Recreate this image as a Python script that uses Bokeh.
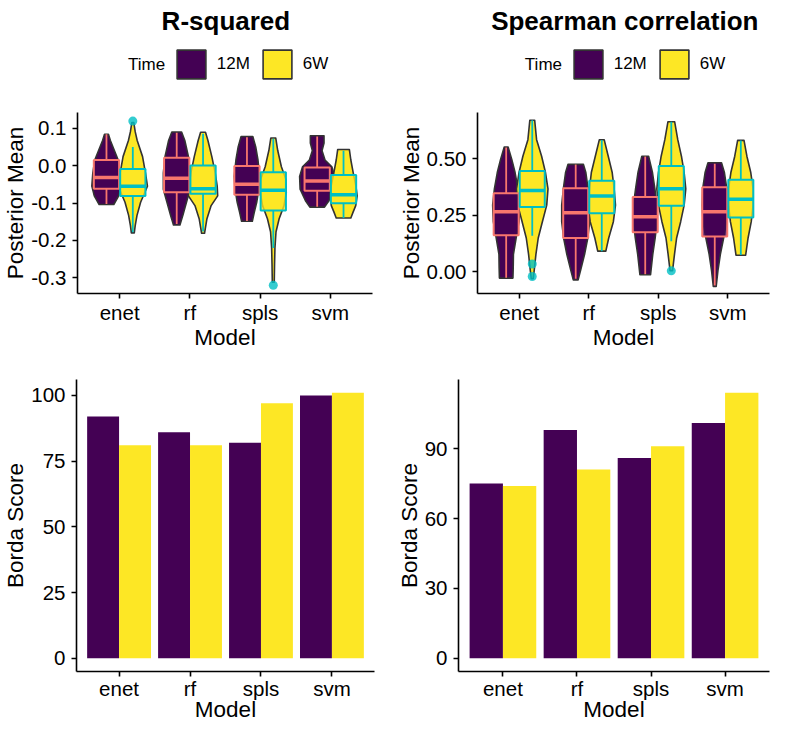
import numpy as np
from bokeh.plotting import figure
from bokeh.layouts import column, row
from bokeh.models import (Range1d, FixedTicker, Legend, LegendItem, Label,
                          NumeralTickFormatter)
from bokeh.embed import file_html
from bokeh.resources import INLINE

# ---------------- data ----------------
models = ["enet", "rf", "spls", "svm"]
times = ["12M", "6W"]

# --- R-squared: violin outlines (y levels, density half-widths) ---
r2_enet_12m_y = [0.084, 0.067, 0.041, 0.015, -0.02, -0.055, -0.081, -0.104]
r2_enet_12m_d = [2, 4, 8, 12, 14, 15, 12.5, 7.5]
r2_enet_6w_y = [0.115, 0.09, 0.067, 0.024, -0.02, -0.055, -0.098, -0.133, -0.16, -0.18]
r2_enet_6w_d = [1, 2.5, 4.5, 10, 13, 15, 8, 4.3, 2.5, 1.5]
r2_rf_12m_y = [0.09, 0.067, 0.024, -0.02, -0.063, -0.098, -0.133, -0.159]
r2_rf_12m_d = [5, 8.3, 12, 13.7, 13.7, 10, 6.3, 3.3]
r2_rf_6w_y = [0.089, 0.067, 0.024, -0.02, -0.055, -0.081, -0.107, -0.142, -0.181]
r2_rf_6w_d = [2.5, 5, 9, 12.5, 14.5, 15, 8.3, 4, 1.5]
r2_spls_12m_y = [0.078, 0.05, 0.015, -0.029, -0.063, -0.098, -0.125, -0.149]
r2_spls_12m_d = [6, 9, 11.3, 13, 12.2, 10, 7.5, 5.5]
r2_spls_6w_y = [0.074, 0.041, -0.003, -0.037, -0.072, -0.107, -0.142, -0.177, -0.22, -0.264, -0.312]
r2_spls_6w_d = [2.5, 4.5, 8.3, 13, 13.3, 11, 6, 2.8, 1.7, 1.3, 1]
r2_svm_12m_y = [0.08, 0.06, 0.04, 0.015, -0.003, -0.029, -0.063, -0.094, -0.111]
r2_svm_12m_d = [7, 7, 5, 8, 15, 18, 17.5, 12, 7.5]
r2_svm_6w_y = [0.043, 0.015, -0.02, -0.055, -0.081, -0.107, -0.125, -0.14]
r2_svm_6w_d = [6, 7.5, 10, 12.7, 14, 12.5, 9.7, 7.5]

# --- R-squared: box statistics per model ---
r2_lo_12m = [-0.103, -0.156, -0.148, -0.110]
r2_q1_12m = [-0.062, -0.071, -0.078, -0.067]
r2_med_12m = [-0.032, -0.034, -0.050, -0.041]
r2_q3_12m = [0.015, 0.021, -0.001, -0.005]
r2_hi_12m = [0.084, 0.088, 0.076, 0.078]
r2_lo_6w = [-0.178, -0.176, -0.220, -0.140]
r2_q1_6w = [-0.081, -0.075, -0.120, -0.101]
r2_med_6w = [-0.055, -0.062, -0.066, -0.078]
r2_q3_6w = [-0.009, 0.000, -0.018, -0.025]
r2_hi_6w = [0.050, 0.085, 0.072, 0.040]
r2_out_model = ["enet", "spls"]
r2_out_val = [0.119, -0.320]

# --- Spearman: violin outlines ---
sp_enet_12m_y = [0.552, 0.497, 0.439, 0.367, 0.295, 0.222, 0.15, 0.078, 0.02, -0.027]
sp_enet_12m_d = [2, 5.8, 9.2, 12.2, 14, 13.3, 10.3, 7.5, 7.3, 7]
sp_enet_6w_y = [0.67, 0.584, 0.511, 0.439, 0.367, 0.295, 0.222, 0.15, 0.078, 0.006, -0.03]
sp_enet_6w_d = [2.5, 4.5, 9.7, 13.7, 16.3, 15, 10.5, 6.2, 3.8, 2, 1]
sp_rf_12m_y = [0.475, 0.439, 0.367, 0.295, 0.222, 0.15, 0.078, 0.006, -0.035]
sp_rf_12m_d = [8, 10.5, 12.8, 14.5, 14.5, 12.5, 9.2, 5, 2.5]
sp_rf_6w_y = [0.584, 0.511, 0.439, 0.367, 0.295, 0.222, 0.15, 0.092]
sp_rf_6w_d = [2.5, 6.7, 10.8, 12.8, 14.2, 12, 7.2, 4.2]
sp_spls_12m_y = [0.511, 0.439, 0.367, 0.295, 0.222, 0.15, 0.078, -0.012]
sp_spls_12m_d = [3.5, 7.5, 10, 12.2, 12.2, 10.3, 7.8, 5.5]
sp_spls_6w_y = [0.663, 0.584, 0.511, 0.439, 0.367, 0.295, 0.222, 0.15, 0.078, 0.006]
sp_spls_6w_d = [3.5, 6.7, 10.5, 13.3, 15, 13.3, 9.7, 5.5, 3.3, 1.3]
sp_svm_12m_y = [0.482, 0.439, 0.367, 0.295, 0.222, 0.15, 0.078, 0.006, -0.064]
sp_svm_12m_d = [7, 10, 12.5, 13, 12.2, 9.2, 5.8, 3.3, 1.5]
sp_svm_6w_y = [0.581, 0.511, 0.439, 0.367, 0.295, 0.222, 0.15, 0.074]
sp_svm_6w_d = [3.3, 6.3, 10.3, 12.7, 12.7, 10.8, 7.5, 5]

# --- Spearman: box statistics ---
sp_lo_12m = [-0.025, -0.030, -0.010, -0.060]
sp_q1_12m = [0.162, 0.150, 0.175, 0.157]
sp_med_12m = [0.266, 0.261, 0.244, 0.266]
sp_q3_12m = [0.348, 0.370, 0.331, 0.374]
sp_hi_12m = [0.550, 0.475, 0.510, 0.478]
sp_lo_6w = [0.160, 0.092, 0.136, 0.075]
sp_q1_6w = [0.287, 0.259, 0.292, 0.241]
sp_med_6w = [0.360, 0.335, 0.367, 0.321]
sp_q3_6w = [0.446, 0.403, 0.468, 0.407]
sp_hi_6w = [0.670, 0.583, 0.663, 0.580]
sp_out_model = ["enet", "enet", "spls"]
sp_out_val = [0.035, -0.020, 0.005]

# --- Borda scores ---
borda_r2_12m = [92, 86, 82, 100]
borda_r2_6w = [81, 81, 97, 101]
borda_sp_12m = [75, 98, 86, 101]
borda_sp_6w = [74, 81, 91, 114]

r2_ticks = [-0.3, -0.2, -0.1, 0.0, 0.1]
sp_ticks = [0.0, 0.25, 0.5]
borda_r2_ticks = [0, 25, 50, 75, 100]
borda_sp_ticks = [0, 30, 60, 90]

# ---------------- style / layout ----------------
FILL = {"12M": "#440154", "6W": "#FDE725"}
EDGE = {"12M": "#F8766D", "6W": "#00BFC4"}
FONT = "Liberation Sans"
DENS_SCALE = 1.0 / 72.0
OFF = 0.1875
BOX_HALF = 0.18

W_L, W_R = 382, 389
HEAD_H = 107
T_MB_TOP, T_FRAME, T_MB_BOT = 5, 181, 66
H_T = T_MB_TOP + T_FRAME + T_MB_BOT
H_B = 726 - HEAD_H - H_T
B_MB_TOP, B_MB_BOT = 20, 55

TICK_FS = "20.5px"
LAB_FS = "22.5px"

SW = 29            # visible legend swatch size
GL = SW / 0.8      # bokeh insets area legend glyphs by 10% per side
INSET = (GL - SW) / 2


def violin_polys(prefix, t, sign):
    g = globals()
    xs_all, ys_all = [], []
    for i, m in enumerate(models):
        ys = np.array(g[f"{prefix}_{m}_{t.lower()}_y"], dtype=float)
        ws = np.array(g[f"{prefix}_{m}_{t.lower()}_d"], dtype=float) * DENS_SCALE
        c = i + 1 + sign * OFF
        xs_all.append(list(c - ws) + list((c + ws)[::-1]))
        ys_all.append(list(ys) + list(ys[::-1]))
    return xs_all, ys_all


def style_axes(p, xlabel, ylabel, yticks, yfmt=None, x_std=2, xl_std=-2):
    p.outline_line_color = None
    p.xgrid.visible = False
    p.ygrid.visible = False
    p.background_fill_color = "white"
    p.border_fill_color = "white"
    p.xaxis.ticker = FixedTicker(ticks=[1, 2, 3, 4])
    p.xaxis.major_label_overrides = {i + 1: m for i, m in enumerate(models)}
    p.yaxis.ticker = FixedTicker(ticks=yticks)
    if yfmt:
        p.yaxis.formatter = NumeralTickFormatter(format=yfmt)
    p.xaxis.axis_label = xlabel
    p.yaxis.axis_label = ylabel
    for ax in (p.xaxis[0], p.yaxis[0]):
        ax.axis_line_color = "black"
        ax.axis_line_width = 1.6
        ax.major_tick_line_color = "black"
        ax.major_tick_line_width = 1.6
        ax.major_tick_out = 5
        ax.major_tick_in = 0
        ax.minor_tick_line_color = None
        ax.major_label_text_font = FONT
        ax.major_label_text_font_size = TICK_FS
        ax.major_label_text_color = "black"
        ax.axis_label_text_font = FONT
        ax.axis_label_text_font_size = LAB_FS
        ax.axis_label_text_font_style = "normal"
        ax.axis_label_text_color = "black"
    p.xaxis.major_label_standoff = x_std
    p.xaxis.axis_label_standoff = xl_std
    p.yaxis.major_label_standoff = 6
    p.yaxis.axis_label_standoff = 0


def header(title, prefix, width, title_cx, time_right, swatch_left):
    # ranges sit away from the data so the proxy glyphs stay hidden;
    # they only feed the legend swatches.
    h = figure(width=width, height=HEAD_H, output_backend="svg",
               toolbar_location=None, x_axis_type=None, y_axis_type=None,
               x_range=Range1d(-30, -29), y_range=Range1d(-30, -29),
               min_border=0, min_border_left=0, min_border_right=0,
               min_border_top=0, min_border_bottom=0)
    h.outline_line_color = None
    h.background_fill_color = "white"
    h.border_fill_color = "white"
    h.add_layout(Label(x=title_cx, y=HEAD_H - 20.3, x_units="screen",
                       y_units="screen", text=title, text_align="center",
                       text_baseline="alphabetic", text_font=FONT,
                       text_font_size="26px", text_font_style="bold",
                       text_color="black"))
    h.add_layout(Label(x=time_right, y=HEAD_H - 63.6, x_units="screen",
                       y_units="screen", text="Time", text_align="right",
                       text_baseline="middle", text_font=FONT,
                       text_font_size="17px", text_color="black"))
    rends = {}
    for t, sign in (("12M", -1), ("6W", 1)):
        xs_all, ys_all = violin_polys(prefix, t, sign)
        rends[t] = h.patches(xs_all, ys_all, fill_color=FILL[t],
                             line_color="#333333", line_width=1.6)
    leg = Legend(items=[LegendItem(label=t, renderers=[rends[t]]) for t in times],
                 orientation="horizontal", glyph_width=int(round(GL)),
                 glyph_height=int(round(GL)),
                 label_standoff=int(round(SW + 12 - GL + INSET)),
                 spacing=int(round(13 - INSET)), padding=0, margin=0,
                 border_line_color=None, background_fill_alpha=0,
                 label_text_font=FONT, label_text_font_size="17px",
                 label_text_color="black")
    leg.location = (swatch_left - INSET, HEAD_H - 78.2 - INSET)
    h.add_layout(leg)
    return h


def violin_panel(prefix, lo12, q112, med12, q312, hi12,
                 lo6, q16, med6, q36, hi6, out_model, out_val,
                 yr, yticks, yfmt, width, mb_left, mb_right):
    p = figure(width=width, height=H_T, output_backend="svg",
               toolbar_location=None, x_range=Range1d(0.4, 4.6),
               y_range=Range1d(*yr), min_border_left=mb_left,
               min_border_right=mb_right, min_border_top=T_MB_TOP,
               min_border_bottom=T_MB_BOT)
    style_axes(p, "Model", "Posterior Mean", yticks, yfmt)
    for t, sign in (("12M", -1), ("6W", 1)):
        xs_all, ys_all = violin_polys(prefix, t, sign)
        p.patches(xs_all, ys_all, fill_color=FILL[t], line_color="#333333",
                  line_width=1.6, line_join="round")
    for t, sign, lo, q1, med, q3, hi in (("12M", -1, lo12, q112, med12, q312, hi12),
                                         ("6W", 1, lo6, q16, med6, q36, hi6)):
        cx = [i + 1 + sign * OFF for i in range(len(models))]
        p.segment(x0=cx, x1=cx, y0=q3, y1=hi, line_color=EDGE[t], line_width=1.8)
        p.segment(x0=cx, x1=cx, y0=q1, y1=lo, line_color=EDGE[t], line_width=1.8)
        p.quad(left=[c - BOX_HALF for c in cx], right=[c + BOX_HALF for c in cx],
               bottom=q1, top=q3, fill_color=FILL[t], fill_alpha=0.78,
               line_color=EDGE[t], line_width=2)
        p.segment(x0=[c - BOX_HALF for c in cx], x1=[c + BOX_HALF for c in cx],
                  y0=med, y1=med, line_color=EDGE[t], line_width=3.5)
    ox = [models.index(m) + 1 + OFF for m in out_model]
    p.scatter(ox, out_val, size=9, fill_color=EDGE["6W"], fill_alpha=0.8,
              line_color=None)
    return p


def bar_panel(v12, v6, yr, yticks, width, mb_left, mb_right):
    p = figure(width=width, height=H_B, output_backend="svg",
               toolbar_location=None, x_range=Range1d(0.4, 4.6),
               y_range=Range1d(*yr), min_border_left=mb_left,
               min_border_right=mb_right, min_border_top=B_MB_TOP,
               min_border_bottom=B_MB_BOT)
    style_axes(p, "Model", "Borda Score", yticks, x_std=0, xl_std=-6)
    pos = np.arange(1, len(models) + 1)
    p.vbar(x=pos - 0.225, width=0.45, top=v12, bottom=0,
           fill_color=FILL["12M"], line_color=None)
    p.vbar(x=pos + 0.225, width=0.45, top=v6, bottom=0,
           fill_color=FILL["6W"], line_color=None)
    return p


h1 = header("R-squared", "r2", W_L, 225.4, 164.6, 176.4)
h2 = header("Spearman correlation", "sp", W_R, 242.3, 179.5, 191.3)

p1 = violin_panel("r2", r2_lo_12m, r2_q1_12m, r2_med_12m, r2_q3_12m,
                  r2_hi_12m, r2_lo_6w, r2_q1_6w, r2_med_6w, r2_q3_6w, r2_hi_6w,
                  r2_out_model, r2_out_val, (-0.342, 0.142), r2_ticks, "0.0",
                  W_L, 76, 10)
p2 = violin_panel("sp", sp_lo_12m, sp_q1_12m, sp_med_12m,
                  sp_q3_12m, sp_hi_12m, sp_lo_6w, sp_q1_6w, sp_med_6w, sp_q3_6w,
                  sp_hi_6w, sp_out_model, sp_out_val, (-0.095, 0.704), sp_ticks,
                  "0.00", W_R, 95, 2)

r2_max = max(borda_r2_12m + borda_r2_6w)
sp_max = max(borda_sp_12m + borda_sp_6w)
p3 = bar_panel(borda_r2_12m, borda_r2_6w, (-0.05 * r2_max, 1.05 * r2_max),
               borda_r2_ticks, W_L, 74, 8)
p4 = bar_panel(borda_sp_12m, borda_sp_6w, (-0.05 * sp_max, 1.05 * sp_max),
               borda_sp_ticks, W_R, 76, 2)

layout = column(row(h1, h2), row(p1, p2), row(p3, p4))
open("out.html", "w").write(file_html(layout, INLINE))
